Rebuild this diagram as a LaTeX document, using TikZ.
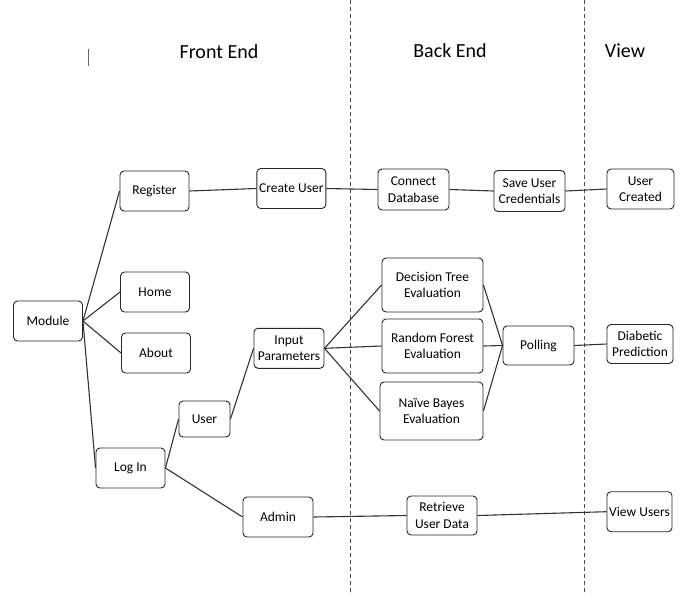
\documentclass[tikz,border=0pt]{standalone}
\usepackage{fontspec}
\setmainfont{Carlito}
\begin{document}
\begin{tikzpicture}[x=1pt,y=-1pt,
  box/.style={draw=black!85, line width=0.9pt, rounded corners=4pt, fill=white,
    inner sep=0pt, align=center, font=\fontsize{13.5}{16.5}\selectfont},
  conn/.style={draw=black!80, line width=1.1pt},
  sep/.style={draw=black!70, line width=0.7pt, dash pattern=on 4pt off 3pt},
  title/.style={font=\fontsize{20}{24}\selectfont, inner sep=0pt}]
\useasboundingbox (0,0) rectangle (682,595);
% separators
\coordinate (s1t) at (350,0); \coordinate (s1b) at (350,595);
\coordinate (s2t) at (584.5,0); \coordinate (s2b) at (584.5,595);
\draw[sep] (s1t) -- (s1b);
\draw[sep] (s2t) -- (s2b);
\coordinate (bt) at (88.5,49); \coordinate (bb) at (88.5,66);
\draw[draw=black!60, line width=1pt] (bt) -- (bb);
% titles
\node[title] (tfe) at (219,52) {Front End};
\node[title] (tbe) at (450,51) {Back End};
\node[title] (tv) at (625,51) {View};
% nodes
\node[box, minimum width=69pt, minimum height=40pt] (module) at (48,321) {Module};
\node[box, minimum width=69pt, minimum height=40pt] (register) at (154.5,191) {Register};
\node[box, minimum width=69pt, minimum height=40pt] (home) at (155,292) {Home};
\node[box, minimum width=69pt, minimum height=40pt] (about) at (156,353) {About};
\node[box, minimum width=69pt, minimum height=40pt] (login) at (130.5,468) {Log In};
\node[box, minimum width=51pt, minimum height=36pt] (user) at (204.5,419) {User};
\node[box, minimum width=69pt, minimum height=40pt] (create) at (291.3,188.5) {Create User};
\node[box, minimum width=70pt, minimum height=40pt] (input) at (289,348.3) {Input\\Parameters};
\node[box, minimum width=70pt, minimum height=40pt] (admin) at (278,517) {Admin};
\node[box, minimum width=71pt, minimum height=41pt] (connect) at (413.5,189.5) {Connect\\Database};
\node[box, minimum width=71pt, minimum height=41pt] (save) at (529.5,191) {Save User\\Credentials};
\node[box, minimum width=67pt, minimum height=40pt] (created) at (640.5,189) {User\\Created};
\node[box, minimum width=101pt, minimum height=54pt] (dt) at (432.5,285) {Decision Tree\\Evaluation};
\node[box, minimum width=101pt, minimum height=54pt] (rf) at (432.5,346) {Random Forest\\Evaluation};
\node[box, minimum width=103pt, minimum height=58pt] (nb) at (431.5,411) {Naïve Bayes\\Evaluation};
\node[box, minimum width=71pt, minimum height=39pt] (polling) at (538.5,345.5) {Polling};
\node[box, minimum width=66pt, minimum height=39pt] (diab) at (640,344) {Diabetic\\Prediction};
\node[box, minimum width=70pt, minimum height=39pt] (retrieve) at (442,515.5) {Retrieve\\User Data};
\node[box, minimum width=65pt, minimum height=40pt] (view) at (639.5,511.7) {View Users};
% connectors
\draw[conn] (module.east) -- (register.west);
\draw[conn] (module.east) -- (home.west);
\draw[conn] (module.east) -- (about.west);
\draw[conn] (module.east) -- (login.west);
\draw[conn] (register.east) -- (create.west);
\draw[conn] (create.east) -- (connect.west);
\draw[conn] (connect.east) -- (save.west);
\draw[conn] (save.east) -- (created.west);
\draw[conn] (login.east) -- (user.west);
\draw[conn] (login.east) -- (admin.west);
\draw[conn] (user.east) -- (input.west);
\draw[conn] (input.east) -- (dt.west);
\draw[conn] (input.east) -- (rf.west);
\draw[conn] (input.east) -- (nb.west);
\draw[conn] (dt.east) -- (polling.west);
\draw[conn] (rf.east) -- (polling.west);
\draw[conn] (nb.east) -- (polling.west);
\draw[conn] (polling.east) -- (diab.west);
\draw[conn] (admin.east) -- (retrieve.west);
\draw[conn] (retrieve.east) -- (view.west);
\end{tikzpicture}
\end{document}
